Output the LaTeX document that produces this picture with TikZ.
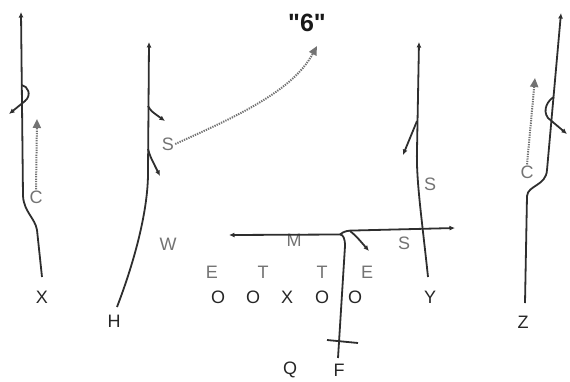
\documentclass[tikz,border=0pt]{standalone}
\usepackage{fontspec}
\setmainfont{Liberation Sans}
\usetikzlibrary{arrows.meta}
\newcommand\straightquote{\XeTeXglyph\XeTeXcharglyph"0022\relax}
\begin{document}
\begin{tikzpicture}[x=1pt,y=-1pt,
  route/.style={draw=black!82, line width=1.8pt, line join=round},
  tip/.style={-{Latex[length=5.5pt,width=5pt]}},
  dotroute/.style={draw=black!55, line width=2pt, dash pattern=on 1.3pt off 1.1pt, -{Triangle[length=9pt,width=8pt]}},
  lab/.style={font=\fontsize{18}{18}\selectfont, text=black!85, inner sep=1pt},
  dlab/.style={lab, text=black!55},
  six/.style={font=\fontsize{25}{25}\selectfont\bfseries, text=black!90, inner sep=1pt}]
\useasboundingbox (0,0) rectangle (570,381);

% labels
\node[lab] (X) at (42,297) {X};
\node[lab] (H) at (114,321) {H};
\node[lab] (Y) at (430,297) {Y};
\node[lab] (Z) at (523,322) {Z};
\node[lab] (Q) at (290,370) {Q};
\node[lab] (F) at (339,370) {F};
\node[lab] (O1) at (218,297) {O};
\node[lab] (O2) at (253,297) {O};
\node[lab] (XC) at (287,297) {X};
\node[lab] (O3) at (322,297) {O};
\node[lab] (O4) at (355,297) {O};
\node[dlab] (E1) at (212,272) {E};
\node[dlab] (T1) at (263,272) {T};
\node[dlab] (T2) at (322,272) {T};
\node[dlab] (E2) at (367,272) {E};
\node[dlab] (M) at (294,240) {M};
\node[dlab] (W) at (168,244) {W};
\node[dlab] (SH) at (168,144) {S};
\node[dlab] (SY) at (430,184) {S};
\node[dlab] (SR) at (404,243) {S};
\node[dlab] (CX) at (36,197) {C};
\node[dlab] (CZ) at (527,172) {C};
\node[six] (six) at (307,23) {\straightquote 6\straightquote};

% coordinates
\coordinate (xs) at (42,277);
\coordinate (xt) at (21,12);
\coordinate (hs) at (117,307);
\coordinate (ht) at (149,42);
\coordinate (ys) at (428,277);
\coordinate (yt) at (419,42);
\coordinate (zs) at (525,303);
\coordinate (zt) at (561,13);
\coordinate (fs) at (338,358);
\coordinate (corner) at (340,234.5);
\coordinate (lt) at (229,235);
\coordinate (rt) at (455,228);
\coordinate (sixt) at (317,46);
\coordinate (cxt) at (37,119);
\coordinate (czt) at (535,78);

% X route
\draw[route,tip] (xs) -- (37,230) .. controls (35,218) and (24,212) .. (23,196) -- (xt);
\draw[route,tip] (21.5,85) .. controls (28,86) and (32,95) .. (25,101) -- (9,114);
\draw[dotroute] (CX.north) -- (cxt);

% H route
\draw[route,tip] (hs) .. controls (135,260) and (148,210) .. (148,173) -- (ht);
\draw[route,tip] (148,106) .. controls (151,111) .. (165,121);
\draw[route,tip] (148,149) .. controls (150,156) .. (160,176);
\draw[dotroute] (SH.east) .. controls (235,117) and (292,92) .. (sixt);

% Y route
\draw[route,tip] (ys) .. controls (422,220) and (416,180) .. (417,150) -- (yt);
\draw[route,tip] (417,121) -- (403,155);

% Z route
\draw[route,tip] (zs) -- (527,196) .. controls (528,185) and (546,186) .. (547,170) -- (zt);
\draw[route,tip] (554,97) .. controls (548,100) and (542,110) .. (548,118) -- (567,134);
\draw[dotroute] (CZ.north) -- (czt);

% F route and crossing line
\draw[route,tip] (fs) -- (345,246) .. controls (345,238) and (343,234.5) .. (corner) -- (lt);
\draw[route,tip] (corner) .. controls (344,231) and (348,230.5) .. (354,230.5) -- (rt);
\draw[route,tip] (350,231) .. controls (356,236) .. (369,251);
\draw[route] (327,340) -- (358,343);
\end{tikzpicture}
\end{document}
